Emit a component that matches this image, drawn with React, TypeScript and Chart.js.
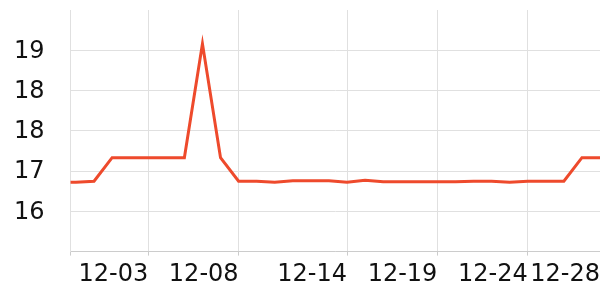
import React, { useEffect, useRef } from "react";
import { Chart, registerables } from "chart.js";

Chart.register(...registerables);

// ---- data ----
const dates = [
  "11-28", "11-29", "11-30", "12-01", "12-02", "12-03", "12-04", "12-05",
  "12-06", "12-07", "12-08", "12-09", "12-10", "12-11", "12-12", "12-13",
  "12-14", "12-15", "12-16", "12-17", "12-18", "12-19", "12-20", "12-21",
  "12-22", "12-23", "12-24", "12-25", "12-26", "12-27", "12-28",
];
const values = [
  16.54, 16.54, 16.56, 17.0, 17.0, 17.0, 17.0, 17.0,
  19.12, 17.0, 16.56, 16.56, 16.54, 16.57, 16.57, 16.57,
  16.54, 16.58, 16.55, 16.55, 16.55, 16.55, 16.55, 16.56,
  16.56, 16.54, 16.56, 16.56, 16.56, 17.0, 17.0,
];
const xTickLabels = ["12-03", "12-08", "12-14", "12-19", "12-24", "12-28"];
const yTickValues = [15.25, 16, 16.75, 17.5, 18.25, 19];
const yTickLabels = ["", "16", "17", "18", "18", "19"];
const xMin = -1.3;
const xMax = 28;
const yMin = 15.25;
const yMax = 19.75;

// day number relative to 11-30 (=0)
const dayOf = (label: string): number => {
  const [m, d] = label.split("-").map(Number);
  return m === 12 ? d : d - 30;
};

export default function App() {
  const ref = useRef<HTMLCanvasElement | null>(null);

  useEffect(() => {
    if (!ref.current) return;
    const points = dates.map((d, i) => ({ x: dayOf(d), y: values[i] }));
    const font = { family: "'DejaVu Sans', sans-serif", size: 24 };
    const chart = new Chart(ref.current, {
      type: "line",
      data: {
        datasets: [
          {
            data: points,
            borderColor: "#ee4a2c",
            borderWidth: 3,
            pointRadius: 0,
            pointHoverRadius: 0,
            tension: 0,
            fill: false,
          },
        ],
      },
      options: {
        responsive: false,
        animation: false,
        events: [],
        layout: { padding: { left: 14, top: 10, right: 0, bottom: 6 } },
        plugins: { legend: { display: false }, tooltip: { enabled: false } },
        scales: {
          x: {
            type: "linear",
            min: xMin,
            max: xMax,
            afterBuildTicks: (scale: any) => {
              scale.ticks = [{ value: xMin }, ...xTickLabels.map((l) => ({ value: dayOf(l) }))];
            },
            grid: {
              color: "#e0e0e0",
              tickColor: "#cccccc",
              tickLength: 4,
              drawTicks: true,
            },
            border: { color: "#cccccc", width: 1 },
            ticks: {
              autoSkip: false,
              maxRotation: 0,
              minRotation: 0,
              align: "end",
              padding: 0,
              color: "#111",
              font: { ...font, lineHeight: 1.6 },
              callback: (value: any) => {
                const idx = xTickLabels.findIndex((l) => dayOf(l) === value);
                return idx >= 0 ? xTickLabels[idx] : "";
              },
            },
          },
          y: {
            type: "linear",
            min: yMin,
            max: yMax,
            afterBuildTicks: (scale: any) => {
              scale.ticks = yTickValues.map((v) => ({ value: v }));
            },
            grid: {
              color: "#e0e0e0",
              tickColor: "rgba(0,0,0,0)",
              tickLength: 26,
              drawTicks: true,
            },
            border: { color: "#e0e0e0", width: 1 },
            ticks: {
              padding: 0,
              labelOffset: 1,
              color: "#111",
              font: { ...font, lineHeight: 0.8 },
              callback: (value: any) => {
                const idx = yTickValues.indexOf(value);
                return idx >= 0 ? yTickLabels[idx] : "";
              },
            },
          },
        },
      },
    });
    return () => chart.destroy();
  }, []);

  return (
    <div style={{ position: "absolute", left: 0, top: 0, width: 600, height: 300 }}>
      <canvas ref={ref} width={600} height={300} style={{ display: "block" }} />
    </div>
  );
}
